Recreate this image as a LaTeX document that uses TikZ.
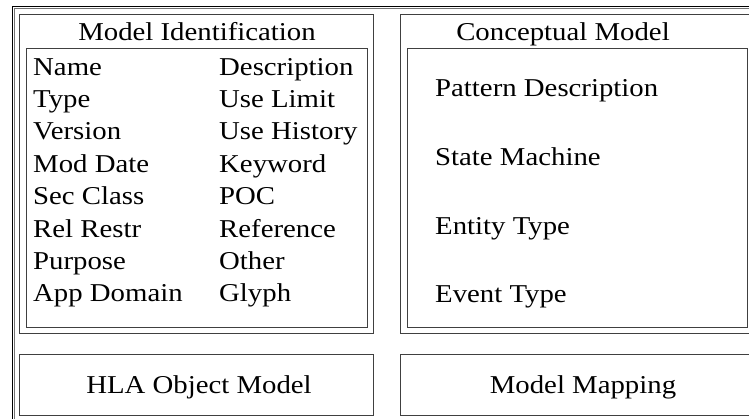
\documentclass[tikz,border=0pt]{standalone}
\usepackage{fontspec}
\setmainfont{Liberation Serif}[FakeStretch=1.12]
\tikzset{
  panel/.style={draw=black!75, line width=0.8pt},
  entry/.style={anchor=base west, inner sep=0pt, font=\fontsize{25.7}{30}\selectfont},
  heading/.style={anchor=base, inner sep=0pt, font=\fontsize{25.7}{30}\selectfont}
}
\begin{document}
\begin{tikzpicture}[x=1pt,y=-1pt]
\useasboundingbox (0,0) rectangle (749,418);
\clip (0,0) rectangle (749,418);

% outer frame, double line on top and left
\draw [line width=0.7pt] (760,6) -- (12,6) -- (12,430);
\draw [line width=0.7pt, black!55] (760,8.5) -- (14.5,8.5) -- (14.5,430);

% model identification
\draw [panel] (19,14) rectangle (373,333);
\draw [panel] (26,48) rectangle (367,327);
\node [heading] (idtitle) at (197,40) {Model Identification};
\foreach \lft/\rgt [count=\i from 0] in {Name/Description, Type/Use Limit,
    Version/Use History, Mod Date/Keyword, Sec Class/POC, Rel Restr/Reference,
    Purpose/Other, App Domain/Glyph}
{
  \node [entry] (idl\i) at (33,{75+32.4*\i}) {\lft};
  \node [entry] (idr\i) at (219,{75+32.4*\i}) {\rgt};
}

% conceptual model
\draw [panel] (400,14) rectangle (780,333);
\draw [panel] (407,48) rectangle (747,327);
\node [heading] (cmtitle) at (563,40) {Conceptual Model};
\node [entry] (pattern) at (435,96) {Pattern Description};
\node [entry] (state) at (435,165) {State Machine};
\node [entry] (entity) at (435,234) {Entity Type};
\node [entry] (event) at (435,302) {Event Type};

% bottom row
\draw [panel] (19,354) rectangle (373,415);
\draw [panel] (400,354) rectangle (780,415);
\node [heading] (hla) at (199,393) {HLA Object Model};
\node [heading] (mapping) at (583,393) {Model Mapping};
\end{tikzpicture}
\end{document}
